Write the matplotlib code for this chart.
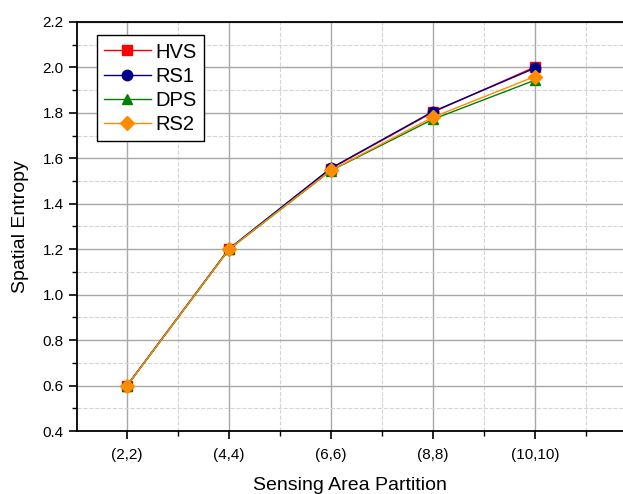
import numpy as np
import matplotlib.pyplot as plt
from matplotlib.ticker import MultipleLocator

plt.rcParams['font.family'] = ['Liberation Sans', 'DejaVu Sans']

partitions = ['(2,2)', '(4,4)', '(6,6)', '(8,8)', '(10,10)']
hvs = [0.600, 1.200, 1.555, 1.803, 2.002]
rs1 = [0.600, 1.202, 1.557, 1.806, 1.997]
dps = [0.598, 1.199, 1.546, 1.772, 1.944]
rs2 = [0.599, 1.200, 1.547, 1.781, 1.960]

x = np.arange(1, len(partitions) + 1)

fig = plt.figure(figsize=(6.23, 4.94), dpi=100)
ax = fig.add_axes([0.1236, 0.1275, 0.8764, 0.828])

ax.plot(x, hvs, color='#ff0000', marker='s', markersize=7, lw=1, label='HVS', zorder=3)
ax.plot(x, rs1, color='#00008b', marker='o', markersize=7.5, lw=1, label='RS1', zorder=3)
ax.plot(x, dps, color='#008000', marker='^', markersize=7.5, lw=1, label='DPS', zorder=3)
ax.plot(x, rs2, color='#ff8c00', marker='D', markersize=7, lw=1, label='RS2', zorder=3)

ax.set_xlim(0.51, 5.863)
ax.set_ylim(0.4, 2.2)
ax.set_xticks(x)
ax.set_xticklabels(partitions)
ax.xaxis.set_minor_locator(MultipleLocator(0.5))
ax.yaxis.set_major_locator(MultipleLocator(0.2))
ax.yaxis.set_minor_locator(MultipleLocator(0.1))
ax.yaxis.set_major_formatter(plt.FormatStrFormatter('%.1f'))

ax.grid(True, which='major', color='#a8a8a8', lw=1, ls='-')
ax.grid(True, which='minor', color='#d4d4d4', lw=0.8, ls='--')
ax.set_axisbelow(True)

ax.spines['right'].set_visible(False)
for s in ['left', 'bottom', 'top']:
    ax.spines[s].set_linewidth(1.3)
ax.tick_params(which='major', direction='out', length=6, width=1.2, labelsize=11, colors='black')
ax.tick_params(which='minor', direction='out', length=3.5, width=1.0)
ax.tick_params(axis='x', which='major', pad=6)

ax.set_xlabel('Sensing Area Partition', fontsize=14, labelpad=11)
ax.set_ylabel('Spatial Entropy', fontsize=14, labelpad=10)

leg = ax.legend(loc='upper left', bbox_to_anchor=(0.037, 0.967), fontsize=14.5,
                frameon=True, fancybox=False, edgecolor='black', framealpha=1,
                handlelength=2.3, handletextpad=0.25, borderpad=0.35, labelspacing=0.25,
                borderaxespad=0)
leg.get_frame().set_linewidth(1.0)

fig.savefig('out.png', dpi=100)
